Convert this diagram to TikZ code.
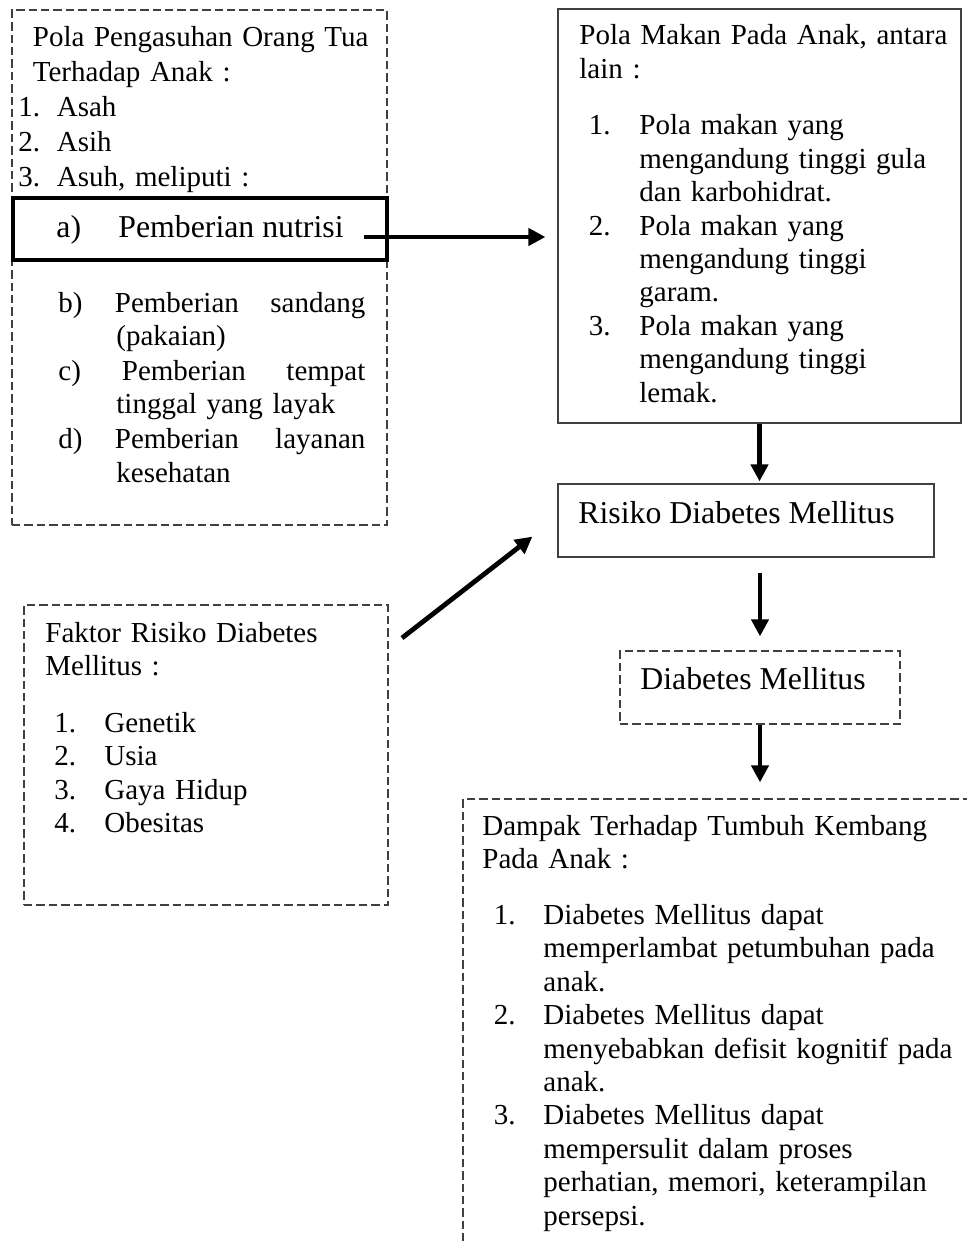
\documentclass[tikz,border=0pt]{standalone}
\usepackage{fontspec}
\setmainfont{Liberation Serif}
\usetikzlibrary{arrows.meta,fit}
\definecolor{boxline}{RGB}{64,64,64}

\tikzset{
  dashbox/.style={draw=boxline, line width=0.65pt, dash pattern=on 4.2pt off 2pt, inner sep=0pt},
  solidbox/.style={draw=boxline, line width=0.6pt, inner sep=0pt},
  thickbox/.style={draw=black, line width=2pt, inner sep=0pt},
  txt/.style={font=\fontsize{14.5}{16.7}\selectfont, inner sep=0pt, anchor=base west, text width=#1},
  txt/.default=180pt,
  bigtxt/.style={font=\fontsize{15.9}{19}\selectfont, inner sep=0pt, anchor=base west},
  arr/.style={-{Triangle[length=8.5pt,width=8.5pt]}, line width=2.4pt},
}

\begin{document}
\begin{tikzpicture}[x=0.5pt, y=-0.5pt]
\useasboundingbox (0,0) rectangle (967,1241);
\clip (0,0) rectangle (967,1241);

%%% Pola pengasuhan (top left)
\node[dashbox, fit={(12,10) (387,525)}] (asuh) {};
\node[thickbox, fit={(13,198) (387,260)}] (nutrisi) {};
\node[txt, font=\fontsize{14.5}{17.5}\selectfont] (asuhtxt) at (18,47) {%
\hspace*{7.25pt}Pola Pengasuhan Orang Tua\\
\hspace*{7.25pt}Terhadap Anak :\\
\makebox[19.25pt][l]{1.}Asah\\
\makebox[19.25pt][l]{2.}Asih\\
\makebox[19.25pt][l]{3.}Asuh, meliputi :};
\node[bigtxt] (nutrisitxt) at (56,238) {\makebox[31pt][l]{a)}Pemberian nutrisi};
\node[txt, font=\fontsize{14.5}{17}\selectfont] (asuhlist) at (58,312) {%
\makebox[28.25pt][l]{b)}\makebox[125.25pt][l]{Pemberian\hfill sandang}\\
\hspace*{29pt}(pakaian)\\
\makebox[31.75pt][l]{c)}\makebox[121.75pt][l]{Pemberian\hfill tempat}\\
\hspace*{29pt}tinggal yang layak\\
\makebox[28.25pt][l]{d)}\makebox[125.25pt][l]{Pemberian\hfill layanan}\\
\hspace*{29pt}kesehatan};

%%% Pola makan (top right)
\node[solidbox, fit={(558,9) (961,423)}] (makan) {};
\node[txt=195pt] (makantxt) at (579,45) {%
Pola Makan Pada Anak, antara\\
lain :\\[11.6pt]
\hspace*{4.75pt}\makebox[25.25pt][l]{1.}Pola makan yang\\
\hspace*{30pt}mengandung tinggi gula\\
\hspace*{30pt}dan karbohidrat.\\
\hspace*{4.75pt}\makebox[25.25pt][l]{2.}Pola makan yang\\
\hspace*{30pt}mengandung tinggi\\
\hspace*{30pt}garam.\\
\hspace*{4.75pt}\makebox[25.25pt][l]{3.}Pola makan yang\\
\hspace*{30pt}mengandung tinggi\\
\hspace*{30pt}lemak.};

%%% Risiko and Diabetes Mellitus
\node[solidbox, fit={(558,484) (934,557)}] (risiko) {};
\node[bigtxt] (risikotxt) at (578,523) {Risiko Diabetes Mellitus};
\node[dashbox, fit={(620,651) (900,724)}] (dm) {};
\node[bigtxt] (dmtxt) at (640,689) {Diabetes Mellitus};

%%% Faktor risiko (bottom left)
\node[dashbox, fit={(24,605) (388,905)}] (faktor) {};
\node[txt] (faktortxt) at (45,642) {%
Faktor Risiko Diabetes\\
Mellitus :\\[11.8pt]
\hspace*{4.5pt}\makebox[25pt][l]{1.}Genetik\\
\hspace*{4.5pt}\makebox[25pt][l]{2.}Usia\\
\hspace*{4.5pt}\makebox[25pt][l]{3.}Gaya Hidup\\
\hspace*{4.5pt}\makebox[25pt][l]{4.}Obesitas};

%%% Dampak (bottom right, runs off the page)
\node[dashbox, fit={(463,799) (990,1270)}] (dampak) {};
\node[txt=250pt] (dampaktxt) at (482,835) {%
Dampak Terhadap Tumbuh Kembang\\
Pada Anak :\\[11.3pt]
\hspace*{5.75pt}\makebox[24.75pt][l]{1.}Diabetes Mellitus dapat\\
\hspace*{30.5pt}memperlambat petumbuhan pada\\
\hspace*{30.5pt}anak.\\
\hspace*{5.75pt}\makebox[24.75pt][l]{2.}Diabetes Mellitus dapat\\
\hspace*{30.5pt}menyebabkan defisit kognitif pada\\
\hspace*{30.5pt}anak.\\
\hspace*{5.75pt}\makebox[24.75pt][l]{3.}Diabetes Mellitus dapat\\
\hspace*{30.5pt}mempersulit dalam proses\\
\hspace*{30.5pt}perhatian, memori, keterampilan\\
\hspace*{30.5pt}persepsi.};

%%% Arrows
\coordinate (a1) at (364,237);
\coordinate (d1) at (402,638);
\draw[arr, shorten >=6pt] (a1) -- (a1 -| makan.west);
\draw[arr, shorten >=1pt] (makan.south) -- (makan.south |- risiko.north);
\draw[arr] (d1) -- ([shift={(-25,-21)}]risiko.south west);
\draw[arr, shorten <=7.5pt, shorten >=7pt] (dm.north |- risiko.south) -- (dm.north);
\draw[arr, shorten >=8pt] (dm.south) -- (dm.south |- dampak.north);
\end{tikzpicture}
\end{document}
